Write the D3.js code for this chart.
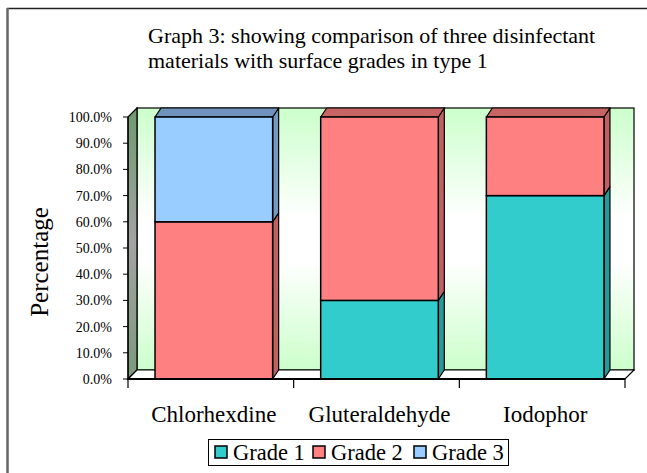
<!DOCTYPE html>
<html>
<head>
<meta charset="utf-8">
<script src="https://cdn.jsdelivr.net/npm/d3@7/dist/d3.min.js"></script>
<style>
  html, body { margin: 0; padding: 0; background: #fff; }
  svg { display: block; }
  text { font-family: "Liberation Serif", "DejaVu Serif", serif; fill: #000; }
</style>
</head>
<body>
<script>
const categories = ["Chlorhexdine", "Gluteraldehyde", "Iodophor"];
const seriesNames = ["Grade 1", "Grade 2", "Grade 3"];
const grade1 = [0, 0.3, 0.7];
const grade2 = [0.6, 0.7, 0.3];
const grade3 = [0.4, 0, 0];
const yTicks = [0, 0.1, 0.2, 0.3, 0.4, 0.5, 0.6, 0.7, 0.8, 0.9, 1.0];
const titleLines = ["Graph 3: showing comparison of three disinfectant", "materials with surface grades in type 1"];
const yLabel = "Percentage";

const W = 647, H = 473;
const FONT = "'Liberation Serif', 'DejaVu Serif', serif";
const colors = {
  "Grade 1": { front: "#33CCCC", side: "#269999", top: "#2aa8a8" },
  "Grade 2": { front: "#FF8080", side: "#c06060", top: "#c86464" },
  "Grade 3": { front: "#99CCFF", side: "#7399c0", top: "#6f93bd" }
};

const svg = d3.select("body").append("svg").attr("width", W).attr("height", H);
const defs = svg.append("defs");
const wallGrad = defs.append("linearGradient").attr("id", "wallGrad").attr("x1", 0).attr("y1", 0).attr("x2", 0).attr("y2", 1);
wallGrad.append("stop").attr("offset", "0%").attr("stop-color", "#ccffcc");
wallGrad.append("stop").attr("offset", "42%").attr("stop-color", "#ffffff");
wallGrad.append("stop").attr("offset", "58%").attr("stop-color", "#ffffff");
wallGrad.append("stop").attr("offset", "100%").attr("stop-color", "#ccffcc");
const sideGrad = defs.append("linearGradient").attr("id", "sideGrad").attr("x1", 0).attr("y1", 0).attr("x2", 0).attr("y2", 1);
sideGrad.append("stop").attr("offset", "0%").attr("stop-color", "#6f9a6f");
sideGrad.append("stop").attr("offset", "50%").attr("stop-color", "#a3a3a3");
sideGrad.append("stop").attr("offset", "100%").attr("stop-color", "#7a9a7a");

// frame
svg.append("line").attr("x1", 7).attr("x2", W).attr("y1", 8.5).attr("y2", 8.5).attr("stroke", "#222").attr("stroke-width", 1.5);
svg.append("line").attr("x1", 7.5).attr("x2", 7.5).attr("y1", 8).attr("y2", H).attr("stroke", "#666").attr("stroke-width", 2.5);

// scales
const x0 = 128, x1 = 625;
const x = d3.scaleBand().domain(categories).range([x0, x1]).paddingInner(0.29).paddingOuter(0.145);
const y = d3.scaleLinear().domain([0, 1]).range([379, 117]);
const wd = 9, wdy = 9;   // wall depth
const bd = 6, bdy = 9;   // bar depth

const line = d3.line();

// back wall
svg.append("rect").attr("x", x0 + wd).attr("y", y(1) - wdy).attr("width", x1 - x0).attr("height", y(0) - y(1))
  .attr("fill", "url(#wallGrad)").attr("stroke", "#000").attr("stroke-width", 1.2);
// left wall
svg.append("path").attr("d", line([[x0, y(1)], [x0 + wd, y(1) - wdy], [x0 + wd, y(0) - wdy], [x0, y(0)]]) + "Z")
  .attr("fill", "url(#sideGrad)").attr("stroke", "#000").attr("stroke-width", 1.2);
// floor
svg.append("path").attr("d", line([[x0, y(0)], [x0 + wd, y(0) - wdy], [x1 + wd, y(0) - wdy], [x1, y(0)]]) + "Z")
  .attr("fill", "#fff").attr("stroke", "#000").attr("stroke-width", 1.2);

// bars
const seriesVals = [grade1, grade2, grade3];
const g = svg.append("g");
categories.forEach((c, i) => {
  const bx = x(c) + 3, bw = x.bandwidth();
  let acc = 0;
  const segs = [];
  seriesVals.forEach((vals, s) => {
    const v = vals[i];
    if (v > 0) { segs.push({ s: seriesNames[s], y0: acc, y1: acc + v }); }
    acc += v;
  });
  segs.forEach((seg, k) => {
    const col = colors[seg.s];
    const ya = y(seg.y0), yb = y(seg.y1);
    g.append("path").attr("d", line([[bx + bw, yb], [bx + bw + bd, yb - bdy], [bx + bw + bd, ya - bdy], [bx + bw, ya]]) + "Z")
      .attr("fill", col.side).attr("stroke", "#000").attr("stroke-width", 1.2).attr("stroke-linejoin", "round");
    if (k === segs.length - 1) {
      g.append("path").attr("d", line([[bx, yb], [bx + bd, yb - bdy], [bx + bw + bd, yb - bdy], [bx + bw, yb]]) + "Z")
        .attr("fill", col.top).attr("stroke", "#000").attr("stroke-width", 1.2).attr("stroke-linejoin", "round");
    }
    g.append("rect").attr("x", bx).attr("y", yb).attr("width", bw).attr("height", ya - yb)
      .attr("fill", col.front).attr("stroke", "#000").attr("stroke-width", 1.5);
  });
});

// y axis
svg.append("line").attr("x1", x0).attr("x2", x0).attr("y1", y(1)).attr("y2", y(0)).attr("stroke", "#000").attr("stroke-width", 1.2);
const yt = svg.append("g");
yTicks.forEach(t => {
  yt.append("line").attr("x1", x0 - 5).attr("x2", x0).attr("y1", y(t)).attr("y2", y(t)).attr("stroke", "#000");
  yt.append("text").attr("x", 112).attr("y", y(t)).attr("dy", "0.35em").attr("text-anchor", "end")
    .attr("font-family", FONT).attr("font-size", 14).text(d3.format(".1%")(t));
});

// x axis
svg.append("line").attr("x1", x0).attr("x2", x1).attr("y1", y(0)).attr("y2", y(0)).attr("stroke", "#000").attr("stroke-width", 2);
const step = x.step();
[0, 1, 2, 3].forEach(k => {
  const tx = x0 + k * step;
  svg.append("line").attr("x1", tx).attr("x2", tx).attr("y1", y(0)).attr("y2", y(0) + 9).attr("stroke", "#000").attr("stroke-width", 1.2);
});
categories.forEach(c => {
  svg.append("text").attr("x", x(c) + x.bandwidth() / 2 + 3).attr("y", 422).attr("text-anchor", "middle")
    .attr("font-family", FONT).attr("font-size", 23).text(c);
});

// y label
svg.append("text").attr("transform", "translate(48,262) rotate(-90)").attr("text-anchor", "middle")
  .attr("font-family", FONT).attr("font-size", 25).text(yLabel);

// title
titleLines.forEach((t, i) => {
  svg.append("text").attr("x", 148).attr("y", 43 + i * 25).attr("font-family", FONT).attr("font-size", 22).text(t);
});

// legend
const lg = svg.append("g");
lg.append("rect").attr("x", 208.5).attr("y", 439.5).attr("width", 300).attr("height", 26).attr("fill", "#fff").attr("stroke", "#000").attr("stroke-width", 1);
const legX = [215, 313, 414];
seriesNames.forEach((s, i) => {
  lg.append("rect").attr("x", legX[i]).attr("y", 446).attr("width", 12).attr("height", 12)
    .attr("fill", colors[s].front).attr("stroke", "#000").attr("stroke-width", 1.5);
  lg.append("text").attr("x", legX[i] + 18).attr("y", 460).attr("font-family", FONT).attr("font-size", 22.5).text(s);
});
</script>
</body>
</html>
